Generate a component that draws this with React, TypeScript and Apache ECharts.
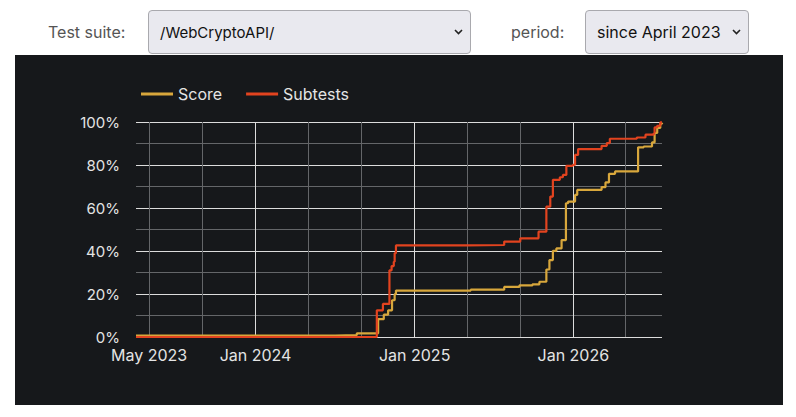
import * as echarts from 'echarts';
import { useEffect, useRef } from 'react';

// x axis: grid lines every 4 months, labels on a few of them
const gridDates = [
  '2023-05-01', '2023-09-01', '2024-01-01', '2024-05-01', '2024-09-01',
  '2025-01-01', '2025-05-01', '2025-09-01', '2026-01-01', '2026-05-01',
];
const labelDates = ['2023-05-01', '2024-01-01', '2025-01-01', '2026-01-01'];
const labelTexts = ['May 2023', 'Jan 2024', 'Jan 2025', 'Jan 2026'];

const xMin = '2023-04-01';
const xMax = '2026-07-24';

// Score (%)
const scoreDates = [
  '2023-04-01', '2024-07-02', '2024-08-21', '2024-10-09', '2024-10-22',
  '2024-11-01', '2024-11-10', '2024-11-16', '2024-11-19', '2025-05-10',
  '2025-07-26', '2025-08-30', '2025-09-29', '2025-10-15', '2025-10-31',
  '2025-11-07', '2025-11-15', '2025-11-23', '2025-12-05', '2025-12-15',
  '2025-12-20', '2026-01-05', '2026-01-10', '2026-03-07', '2026-03-16',
  '2026-03-24', '2026-04-07', '2026-05-30', '2026-06-12', '2026-07-01',
  '2026-07-07', '2026-07-13', '2026-07-20', '2026-07-24',
];
const scoreValues = [
  0.6, 0.9, 1.7, 8.3, 10.4,
  12.4, 17.1, 19.9, 21.6, 22.0,
  23.3, 24.0, 24.5, 25.7, 31.4,
  35.8, 40.1, 41.2, 45.1, 62.2,
  63.0, 66.1, 68.4, 69.7, 71.9,
  75.9, 77.0, 88.2, 88.6, 90.5,
  94.9, 97.2, 99.2, 99.6,
];

// Subtests (%)
const subtestDates = [
  '2023-04-01', '2024-10-06', '2024-10-20', '2024-11-04', '2024-11-09',
  '2024-11-14', '2024-11-16', '2024-11-19', '2025-05-01', '2025-07-26',
  '2025-09-01', '2025-10-13', '2025-10-31', '2025-11-09', '2025-11-15',
  '2025-12-01', '2025-12-08', '2025-12-16', '2025-12-31', '2026-01-05',
  '2026-01-12', '2026-03-07', '2026-03-19', '2026-03-26', '2026-05-27',
  '2026-06-16', '2026-07-05', '2026-07-07', '2026-07-13', '2026-07-20',
  '2026-07-24',
];
const subtestValues = [
  0, 12.4, 15.4, 31.0, 33.0,
  35.0, 39.0, 42.6, 42.8, 44.4,
  45.9, 49.0, 60.6, 65.3, 73.1,
  74.3, 75.4, 79.6, 80.1, 84.7,
  87.4, 88.9, 90.2, 92.2, 92.8,
  94.1, 94.9, 97.5, 98.2, 99.8,
  100,
];

const FONT = 'Inter, "DejaVu Sans", sans-serif';
const t = (d: string) => Date.parse(d + 'T00:00:00Z');

function Chart() {
  const chartRef = useRef<HTMLDivElement>(null);

  useEffect(() => {
    if (!chartRef.current) return;
    const chart = echarts.init(chartRef.current, null, { renderer: 'svg' });

    const labelTimes = labelDates.map(t);

    chart.setOption({
      animation: false,
      backgroundColor: '#16181b',
      textStyle: { fontFamily: FONT },
      legend: {
        left: 121,
        top: 26,
        icon: 'rect',
        itemWidth: 32,
        itemHeight: 3,
        itemGap: 24,
        textStyle: { color: '#e4e4e4', fontSize: 16, fontFamily: FONT },
        data: ['Score', 'Subtests'],
      },
      grid: { left: 121, right: 121, top: 67, bottom: 68 },
      xAxis: {
        type: 'value',
        min: t(xMin),
        max: t(xMax),
        axisLine: { show: false },
        axisTick: { show: false, customValues: gridDates.map(t) },
        axisLabel: {
          customValues: labelTimes,
          color: '#e4e4e4',
          fontSize: 16,
          fontFamily: FONT,
          margin: 10,
          hideOverlap: false,
          formatter: (v: number) => {
            const i = labelTimes.indexOf(v);
            return i >= 0 ? labelTexts[i] : '';
          },
        },
        splitLine: {
          show: true,
          lineStyle: { color: ['#646669', '#646669', '#dcdcdc'], width: 1 },
        },
      },
      yAxis: {
        type: 'value',
        min: 0,
        max: 100,
        interval: 10,
        axisLine: { show: false },
        axisTick: { show: false },
        axisLabel: {
          color: '#e4e4e4',
          fontSize: 15,
          fontFamily: FONT,
          margin: 16,
          formatter: (v: number) => (v % 20 === 0 ? v + '%' : ''),
        },
        splitLine: {
          show: true,
          lineStyle: { color: ['#dcdcdc', '#646669'], width: 1 },
        },
      },
      series: [
        {
          name: 'Score',
          type: 'line',
          step: 'end',
          symbol: 'none',
          color: '#d8a73c',
          lineStyle: { width: 2.2 },
          data: scoreDates.map((d, i) => [t(d), scoreValues[i]]),
        },
        {
          name: 'Subtests',
          type: 'line',
          step: 'end',
          symbol: 'none',
          color: '#e2431f',
          lineStyle: { width: 2.2 },
          data: subtestDates.map((d, i) => [t(d), subtestValues[i]]),
        },
      ],
    });

    return () => chart.dispose();
  }, []);

  return <div ref={chartRef} style={{ width: 768, height: 350 }} />;
}

function SelectBox({ text, left, width, size }: { text: string; left: number; width: number; size: number }) {
  return (
    <div
      style={{
        position: 'absolute',
        left,
        top: 10,
        width,
        height: 44,
        boxSizing: 'border-box',
        background: '#e9e9ef',
        border: '1px solid #a9a9ae',
        borderRadius: 4,
        fontSize: size,
        color: '#111',
        display: 'flex',
        alignItems: 'center',
        padding: '0 7px 0 11px',
        justifyContent: 'space-between',
      }}
    >
      <span>{text}</span>
      <svg width="9" height="6" viewBox="0 0 9 6">
        <polyline points="1,1 4.5,4.5 8,1" fill="none" stroke="#222" strokeWidth="1.6" />
      </svg>
    </div>
  );
}

export default function App() {
  return (
    <div
      style={{
        position: 'fixed',
        left: 0,
        top: 0,
        width: 796,
        height: 417,
        background: '#fff',
        fontFamily: FONT,
      }}
    >
      <div style={{ position: 'absolute', left: 48, top: 22, fontSize: 16, color: '#555', lineHeight: '20px' }}>
        Test suite:
      </div>
      <SelectBox text="/WebCryptoAPI/" left={148} width={323} size={15} />
      <div style={{ position: 'absolute', left: 511, top: 22, fontSize: 16, color: '#555', lineHeight: '20px' }}>
        period:
      </div>
      <SelectBox text="since April 2023" left={585} width={164} size={16} />
      <div style={{ position: 'absolute', left: 15, top: 55 }}>
        <Chart />
      </div>
    </div>
  );
}
